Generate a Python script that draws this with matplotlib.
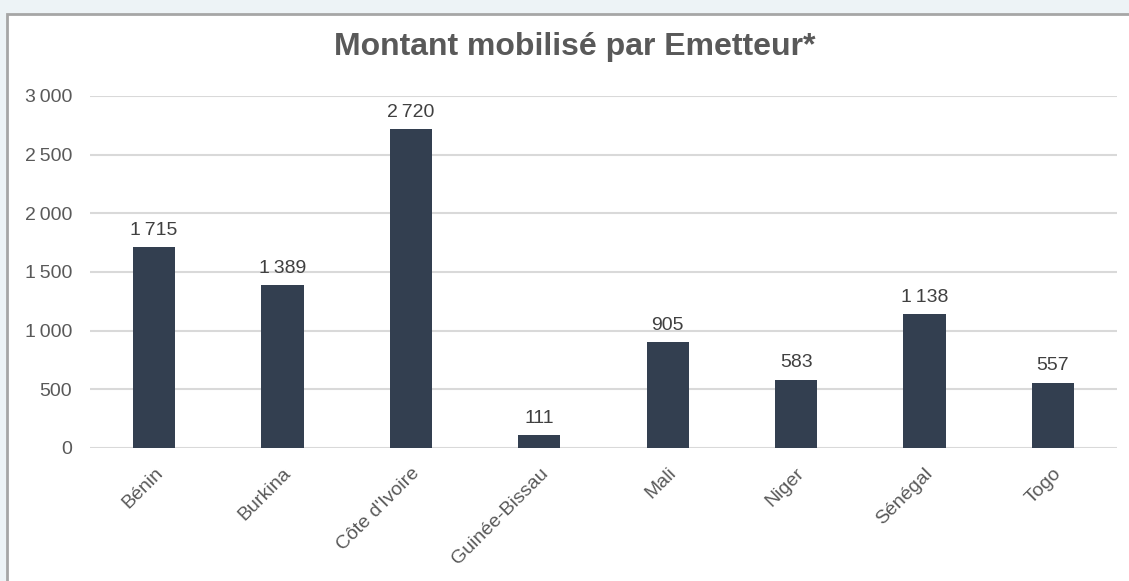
import matplotlib.pyplot as plt
from matplotlib.patches import Rectangle
import numpy as np

plt.rcParams['font.family'] = ['Liberation Sans', 'DejaVu Sans']

pays = ['Bénin', 'Burkina', "Côte d'Ivoire", 'Guinée-Bissau', 'Mali', 'Niger', 'Sénégal', 'Togo']
montants = [1715, 1389, 2720, 111, 905, 583, 1138, 557]
yticks = [0, 500, 1000, 1500, 2000, 2500, 3000]


def fmt(v):
    # narrow space as thousands separator
    return f'{v:,}'.replace(',', '\u2009')


W, H = 1129, 581
fig = plt.figure(figsize=(W / 100, H / 100), dpi=100, facecolor='#edf3f6')

# white chart area with grey frame, behind the axes
frame = Rectangle((7 / W, -0.1), 1.2, (H - 14) / H + 0.1, transform=fig.transFigure,
                  facecolor='white', edgecolor='#a6a6a6', linewidth=2, zorder=-10)
fig.patches.append(frame)

ax = fig.add_axes([90 / W, (H - 448) / H, (1117 - 90) / W, (448 - 96) / H])
ax.set_facecolor('none')
ax.set_zorder(5)

x = np.arange(len(pays))
ax.bar(x, montants, width=0.33, color='#333f50', zorder=3)

for xi, v in zip(x, montants):
    ax.text(xi, v + 70, fmt(v), ha='center', va='bottom', fontsize=14, color='#404040')

ax.set_xlim(-0.5, len(pays) - 0.5)
ax.set_ylim(0, 3000)
ax.set_yticks(yticks)
ax.set_yticklabels([fmt(t) for t in yticks], fontsize=14, color='#595959')
ax.set_xticks(x)
ax.set_xticklabels(pays, rotation=45, ha='right', rotation_mode='anchor', fontsize=14, color='#595959')
ax.tick_params(axis='x', length=0, pad=12)
ax.tick_params(axis='y', length=0, pad=13)

ax.grid(axis='y', color='#d9d9d9', linewidth=1.5, zorder=0)
for s in ax.spines.values():
    s.set_visible(False)

fig.text(575 / W, 1 - 47 / H, 'Montant mobilisé par Emetteur*', ha='center', va='center',
         fontsize=23, fontweight='bold', color='#595959')

fig.savefig('out.png', dpi=100, facecolor=fig.get_facecolor())
